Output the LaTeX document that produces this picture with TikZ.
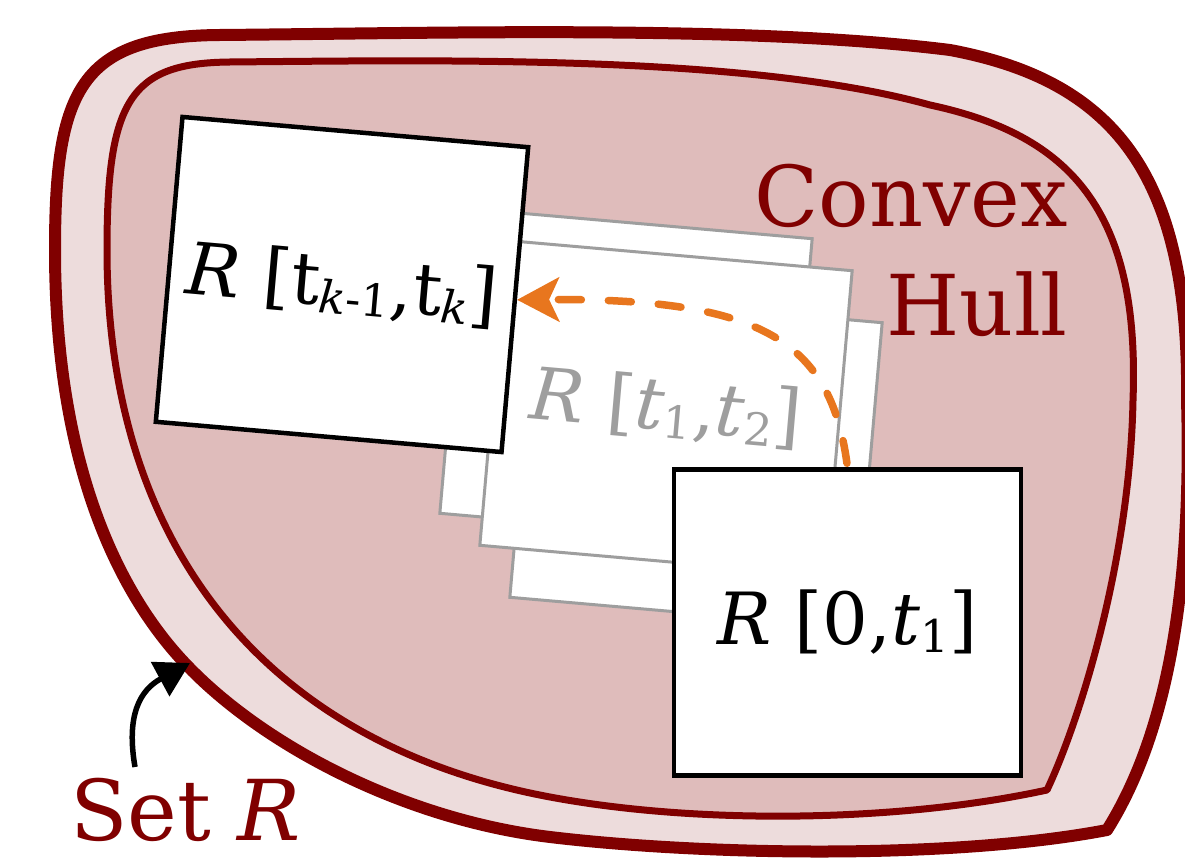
\documentclass[tikz,border=0pt]{standalone}
\usepackage{fontspec}
\setmainfont{DejaVu Serif}
\usetikzlibrary{arrows.meta}
\definecolor{hullred}{HTML}{800000}
\definecolor{setfill}{HTML}{EDDCDC}
\definecolor{hullfill}{HTML}{DFBCBB}
\definecolor{arroworange}{HTML}{E8761E}
\definecolor{stackgray}{HTML}{9E9E9E}
\newcommand\lblfont{\fontsize{72}{76}\selectfont}
\newcommand\hullfont{\fontsize{84}{88}\selectfont}
\newcommand\sbx[1]{\raisebox{-0.1em}{\fontsize{45}{48}\selectfont #1}}
\begin{document}
\begin{tikzpicture}[x=1pt,y=-1pt,
  blobline/.style={draw=hullred, line join=round},
  whitebox/.style={draw=black, line width=4.5pt, fill=white, minimum width=347pt, minimum height=306pt, inner sep=0pt, font=\lblfont},
  graybox/.style={draw=stackgray, line width=3pt, fill=white, minimum width=347pt, minimum height=306pt, inner sep=0pt, font=\lblfont, text=stackgray, rotate=-5},
  redtext/.style={text=hullred, font=\hullfont, inner sep=0pt}]
\useasboundingbox (0,0) rectangle (1185,858);
\clip (0,0) rectangle (1185,858);
% Set R (outer)
\path[blobline, fill=setfill, line width=12pt]
  (55,250) .. controls (55,90) and (80,36) .. (220,35)
  .. controls (450,33) and (750,25) .. (950,50)
  .. controls (1110,80) and (1190,170) .. (1187,400)
  .. controls (1192,580) and (1170,730) .. (1107,830)
  .. controls (950,860) and (700,855) .. (550,837)
  .. controls (400,819) and (250,740) .. (173,650)
  .. controls (110,576) and (55,450) .. cycle;
% Convex hull (inner)
\path[blobline, fill=hullfill, line width=7pt]
  (107,250) .. controls (107,100) and (130,63) .. (230,62)
  .. controls (450,60) and (750,55) .. (930,105)
  .. controls (1070,135) and (1140,210) .. (1133,400)
  .. controls (1130,560) and (1080,720) .. (1047,790)
  .. controls (900,822) and (700,825) .. (550,797)
  .. controls (266,744) and (107,547) .. cycle;
% stack of intermediate reachable sets
\node[graybox] (g1) at (626,376) {};
\node[graybox] (g3) at (696,460) {};
\node[graybox] (g2) at (666,408) {\textit{R} [\textit{t}\sbx{1},\textit{t}\sbx{2}]};
% main boxes
\node[whitebox, rotate=-5] (A) at (342,284.5) {\textit{R} [t\sbx{\textit{k}-1},t\sbx{\textit{k}}]};
\node[whitebox] (B) at (847.5,622.5) {\textit{R} [0,\textit{t}\sbx{1}]};
% orange dashed arrow
\draw[arroworange, line width=7.5pt, line cap=round, dash pattern=on 23pt off 27pt,
  -{Stealth[length=42pt,width=44pt,inset=10pt]}, shorten <=4pt]
  (B.north) .. controls (830,340) and (760,298) .. (A.east);
% labels
\node[redtext, anchor=base east] (convex) at (1068,227) {Convex};
\node[redtext, anchor=base east] (hull) at (1068,335) {Hull};
\node[redtext, anchor=base west] (setR) at (70,840) {Set \textit{R}};
\coordinate (setarrowstart) at (135,767);
\coordinate (settip) at (190,663);
\draw[line width=5.5pt, -{Triangle[length=34pt,width=38pt]}]
  (setarrowstart) .. controls (126,715) and (140,690) .. (settip);
\end{tikzpicture}
\end{document}
